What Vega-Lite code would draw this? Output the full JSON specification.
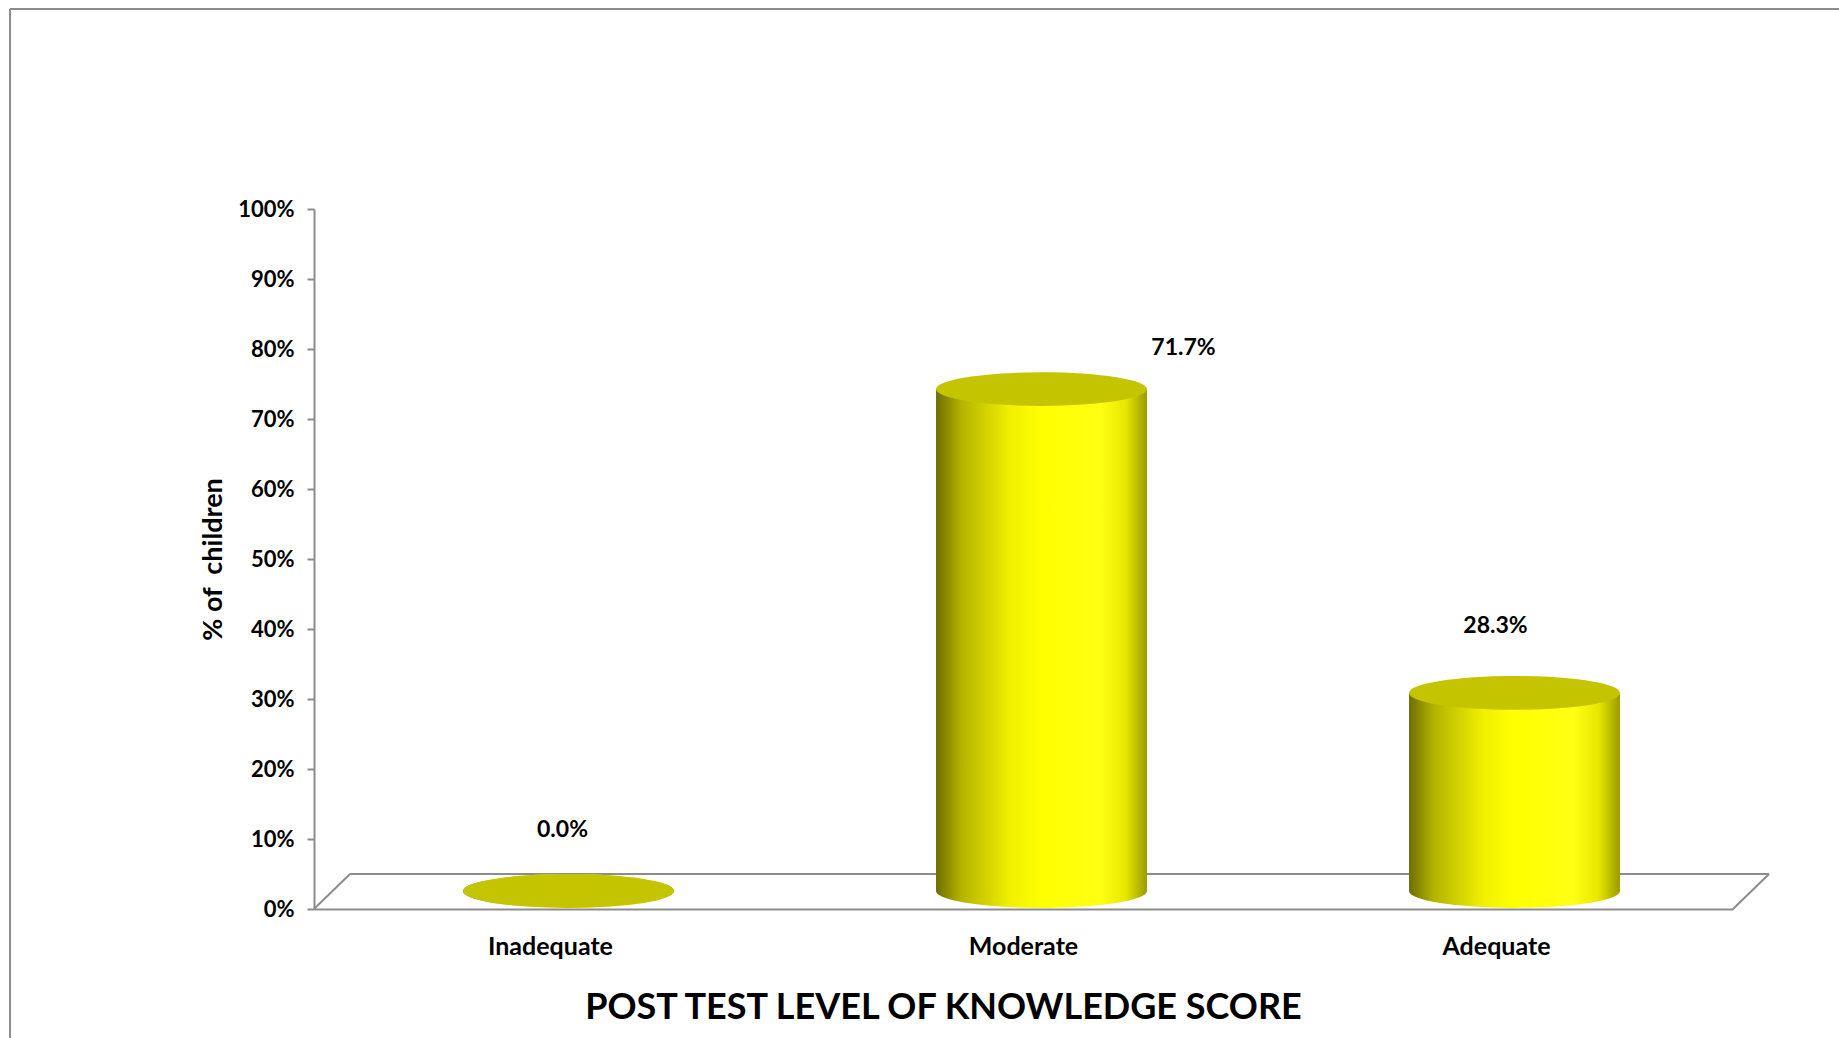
{
  "$schema": "https://vega.github.io/schema/vega-lite/v6.json",
  "autosize": {"type": "none"},
  "width": 1829,
  "height": 1029,
  "padding": {"left": 10, "top": 9, "right": 0, "bottom": 0},
  "background": "white",
  "config": {
    "view": {"stroke": "#8c8c8c", "strokeWidth": 2, "strokeDash": [1829, 2858, 1029, 0]},
    "font": "Lato"
  },
  "data": {
    "values": [
      {"level": "Inadequate", "pct": 0.0},
      {"level": "Moderate", "pct": 0.717},
      {"level": "Adequate", "pct": 0.283}
    ]
  },
  "resolve": {"scale": {"x": "independent"}, "axis": {"x": "independent"}},
  "layer": [
    {
      "data": {"values": [{"part": "floor"}]},
      "encoding": {
        "x": {"datum": 0, "type": "quantitative", "scale": {"domain": [0, 1], "range": [304, 1723]}, "axis": null}
      },
      "layer": [
        {
          "mark": {"type": "rule", "color": "#8c8c8c", "strokeWidth": 2, "xOffset": 36, "x2Offset": 36, "yOffset": -35},
          "encoding": {
            "x2": {"datum": 1},
            "y": {"datum": 0, "type": "quantitative"}
          }
        },
        {
          "mark": {"type": "rule", "color": "#8c8c8c", "strokeWidth": 2, "x2Offset": 36, "y2Offset": -35},
          "encoding": {
            "x2": {"datum": 0},
            "y": {"datum": 0, "type": "quantitative"},
            "y2": {"datum": 0}
          }
        },
        {
          "mark": {"type": "rule", "color": "#8c8c8c", "strokeWidth": 2, "x2Offset": 36, "y2Offset": -35},
          "encoding": {
            "x": {"datum": 1, "type": "quantitative"},
            "x2": {"datum": 1},
            "y": {"datum": 0, "type": "quantitative"},
            "y2": {"datum": 0}
          }
        }
      ]
    },
    {
      "encoding": {
        "x": {
          "field": "level",
          "type": "nominal",
          "sort": ["Inadequate", "Moderate", "Adequate"],
          "scale": {"range": [304, 1723], "paddingInner": 0.554, "paddingOuter": 0.277},
          "axis": {
            "orient": "bottom",
            "offset": -129,
            "domainColor": "#8c8c8c",
            "domainWidth": 2,
            "ticks": false,
            "tickSize": 0,
            "labelPadding": 25,
            "labelAngle": 0,
            "labelFont": "Lato",
            "labelFontSize": 25,
            "labelFontWeight": "bold",
            "labelColor": "black",
            "title": "POST TEST LEVEL OF KNOWLEDGE SCORE",
            "titleFont": "Lato",
            "titleFontSize": 36,
            "titleFontWeight": "bold",
            "titleColor": "black",
            "titleX": 933,
            "titleY": 109,
            "titleBaseline": "alphabetic",
            "titleAlign": "center"
          }
        }
      },
      "layer": [
        {
          "mark": {
            "type": "point",
            "shape": "M-1,0A1,0.16,0,1,0,1,0A1,0.16,0,1,0,-1,0Z",
            "size": 44521,
            "filled": true,
            "opacity": 1,
            "strokeWidth": 0,
            "fill": {
              "gradient": "linear", "x1": 0, "x2": 1, "y1": 0, "y2": 0,
              "stops": [
                {"offset": 0, "color": "#6e6e00"},
                {"offset": 0.12, "color": "#b4b400"},
                {"offset": 0.35, "color": "#f0f000"},
                {"offset": 0.5, "color": "#ffff00"},
                {"offset": 0.78, "color": "#ffff14"},
                {"offset": 0.9, "color": "#e6e600"},
                {"offset": 1, "color": "#9a9a00"}
              ]
            },
            "xOffset": 18,
            "yOffset": -18
          },
          "encoding": {"y": {"datum": 0, "type": "quantitative"}}
        },
        {
          "mark": {
            "type": "bar",
            "fill": {
              "gradient": "linear", "x1": 0, "x2": 1, "y1": 0, "y2": 0,
              "stops": [
                {"offset": 0, "color": "#6e6e00"},
                {"offset": 0.12, "color": "#b4b400"},
                {"offset": 0.35, "color": "#f0f000"},
                {"offset": 0.5, "color": "#ffff00"},
                {"offset": 0.78, "color": "#ffff14"},
                {"offset": 0.9, "color": "#e6e600"},
                {"offset": 1, "color": "#9a9a00"}
              ]
            },
            "xOffset": 18,
            "yOffset": -18,
            "y2Offset": -18
          },
          "encoding": {
            "y": {
              "field": "pct",
              "type": "quantitative",
              "scale": {"domain": [0, 1], "range": [900, 200]},
              "axis": {
                "offset": -304,
                "values": [0, 0.1, 0.2, 0.3, 0.4, 0.5, 0.6, 0.7, 0.8, 0.9, 1],
                "format": ".0%",
                "grid": false,
                "domainColor": "#8c8c8c",
                "domainWidth": 2,
                "tickColor": "#8c8c8c",
                "tickWidth": 2,
                "tickSize": 7,
                "labelPadding": 13,
                "labelFont": "Lato",
                "labelFontSize": 22,
                "labelFontWeight": "bold",
                "labelColor": "black",
                "title": "% of\u00a0 children",
                "titleFont": "Lato",
                "titleFontSize": 27,
                "titleFontWeight": "bold",
                "titleColor": "black",
                "titlePadding": 10
              }
            },
            "y2": {"datum": 0}
          }
        },
        {
          "mark": {
            "type": "point",
            "shape": "M-1,0A1,0.16,0,1,0,1,0A1,0.16,0,1,0,-1,0Z",
            "size": 44521,
            "filled": true,
            "opacity": 1,
            "strokeWidth": 0,
            "fill": "#c4c400",
            "xOffset": 18,
            "yOffset": -18
          },
          "encoding": {"y": {"field": "pct", "type": "quantitative"}}
        },
        {
          "transform": [{"filter": "datum.level === 'Moderate'"}],
          "mark": {"type": "text", "font": "Lato", "fontSize": 23, "fontWeight": "bold", "color": "black", "align": "center", "baseline": "middle", "dx": 160, "dy": -59},
          "encoding": {
            "y": {"field": "pct", "type": "quantitative"},
            "text": {"field": "pct", "type": "quantitative", "format": ".1%"}
          }
        },
        {
          "transform": [{"filter": "datum.level === 'Adequate'"}],
          "mark": {"type": "text", "font": "Lato", "fontSize": 23, "fontWeight": "bold", "color": "black", "align": "center", "baseline": "middle", "dx": -1, "dy": -85},
          "encoding": {
            "y": {"field": "pct", "type": "quantitative"},
            "text": {"field": "pct", "type": "quantitative", "format": ".1%"}
          }
        },
        {
          "transform": [{"filter": "datum.level === 'Inadequate'"}],
          "mark": {"type": "text", "font": "Lato", "fontSize": 23, "fontWeight": "bold", "color": "black", "align": "center", "baseline": "middle", "dx": 12, "dy": -79},
          "encoding": {
            "y": {"field": "pct", "type": "quantitative"},
            "text": {"field": "pct", "type": "quantitative", "format": ".1%"}
          }
        }
      ]
    }
  ]
}
